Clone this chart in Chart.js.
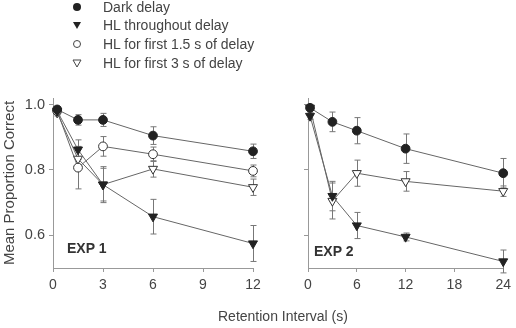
<!DOCTYPE html>
<html>
<head>
<meta charset="utf-8">
<script src="https://cdn.jsdelivr.net/npm/chart.js@4.4.1/dist/chart.umd.min.js"></script>
<style>
  body { margin: 0; background: #fff; font-family: "Liberation Sans", Arial, sans-serif; }
  #wrap { position: relative; width: 516px; height: 328px; overflow: hidden; }
  canvas { position: absolute; top: 0; }
  .lab { position: absolute; color: #444; font-size: 14px; white-space: nowrap; }
  .exp { position: absolute; color: #333; font-size: 14px; font-weight: bold; }
  .leg { position: absolute; left: 70px; font-size: 14px; color: #444; height: 18px; line-height: 14px; }
  .leg svg { position: absolute; left: 0; top: 0; }
  .leg span { position: absolute; left: 33px; top: 0; white-space: nowrap; }
</style>
</head>
<body>
<div id="wrap">
  <canvas id="exp1" width="268" height="300" style="left:0px"></canvas>
  <canvas id="exp2" width="226" height="300" style="left:290px"></canvas>

  <div class="leg" style="top:0px"><svg width="14" height="14"><circle cx="7" cy="7" r="4" fill="#222"/></svg><span>Dark delay</span></div>
  <div class="leg" style="top:18px"><svg width="14" height="14"><polygon points="3,4 11,4 7,11" fill="#222"/></svg><span>HL throughout delay</span></div>
  <div class="leg" style="top:37px"><svg width="14" height="14"><circle cx="7" cy="7" r="3.5" fill="#fff" stroke="#444" stroke-width="1"/></svg><span>HL for first 1.5 s of delay</span></div>
  <div class="leg" style="top:56px"><svg width="14" height="14"><polygon points="3,4 11,4 7,11" fill="#fff" stroke="#444" stroke-width="1"/></svg><span>HL for first 3 s of delay</span></div>

  <div class="exp" style="left:67px; top:240px">EXP 1</div>
  <div class="exp" style="left:314px; top:243px">EXP 2</div>
  <div class="lab" style="left:218px; top:308px">Retention Interval (s)</div>
</div>

<script>
// ---------------- data ----------------
const yTicks = [0.6, 0.8, 1.0];

// Experiment 1
const x1 = [0.25, 1.5, 3, 6, 12];
const xTicks1 = [0, 3, 6, 9, 12];
const dark1 = [0.985, 0.953, 0.953, 0.905, 0.857];
const dark1Err = [0.008, 0.016, 0.02, 0.027, 0.022];
const hlAll1 = [0.98, 0.862, 0.755, 0.657, 0.575];
const hlAll1Err = [0.01, 0.03, 0.05, 0.053, 0.055];
const hl15_1 = [0.98, 0.807, 0.872, 0.848, 0.797];
const hl15_1Err = [0.01, 0.065, 0.03, 0.022, 0.018];
const hl3_1 = [0.975, 0.834, 0.755, 0.803, 0.747];
const hl3_1Err = [0.01, 0.03, 0.055, 0.025, 0.025];

// Experiment 2
const x2 = [0.25, 3, 6, 12, 24];
const xTicks2 = [0, 6, 12, 18, 24];
const dark2 = [0.99, 0.947, 0.92, 0.865, 0.79];
const dark2Err = [0.008, 0.03, 0.04, 0.045, 0.045];
const hlAll2 = [0.965, 0.72, 0.63, 0.595, 0.52];
const hlAll2Err = [0.01, 0.045, 0.04, 0.012, 0.035];
const hl3_2 = [0.99, 0.705, 0.79, 0.765, 0.735];
const hl3_2Err = [0.008, 0.055, 0.04, 0.03, 0.016];

const FONT = "'Liberation Sans', Arial, sans-serif";

function pts(xs, ys) {
  return xs.map((x, i) => ({ x: x, y: ys[i] }));
}

// kind: 'dark' | 'hlAll' | 'hl15' | 'hl3'
function makeSet(label, xs, ys, err, kind) {
  const filled = (kind == 'dark' || kind == 'hlAll');
  const tri = (kind == 'hlAll' || kind == 'hl3');
  return {
    label: label,
    data: pts(xs, ys),
    err: err,
    borderColor: '#666',
    borderWidth: 1,
    pointStyle: tri ? 'triangle' : 'circle',
    pointRotation: tri ? 180 : 0,
    pointRadius: tri ? 5.2 : 4.4,
    pointBackgroundColor: filled ? '#222' : '#fff',
    pointBorderColor: filled ? '#222' : '#333',
    pointBorderWidth: 1,
    tension: 0,
    clip: false
  };
}

// error bars drawn through the chart scales
const errorBars = {
  id: 'errorBars',
  beforeDatasetsDraw(chart) {
    const ctx = chart.ctx;
    const xs = chart.scales.x, ys = chart.scales.y;
    ctx.save();
    ctx.strokeStyle = '#777';
    ctx.lineWidth = 1;
    chart.data.datasets.forEach(ds => {
      ds.data.forEach((p, i) => {
        const e = ds.err[i];
        const px = Math.round(xs.getPixelForValue(p.x)) + 0.5;
        const top = ys.getPixelForValue(p.y + e);
        const bot = ys.getPixelForValue(p.y - e);
        ctx.beginPath();
        ctx.moveTo(px, top); ctx.lineTo(px, bot);
        ctx.moveTo(px - 3, top); ctx.lineTo(px + 3, top);
        ctx.moveTo(px - 3, bot); ctx.lineTo(px + 3, bot);
        ctx.stroke();
      });
    });
    ctx.restore();
  }
};

function makeOptions(xTicks, xMax, showY, yWidth, padRight) {
  return {
    responsive: false,
    animation: false,
    layout: { padding: { top: 98, right: padRight, left: 0, bottom: 0 } },
    plugins: { legend: { display: false }, tooltip: { enabled: false } },
    scales: {
      x: {
        type: 'linear',
        min: 0,
        max: xMax,
        afterBuildTicks: s => { s.ticks = xTicks.map(v => ({ value: v })); },
        afterFit: s => { s.height = 32; },
        ticks: { color: '#444', font: { family: FONT, size: 14 }, padding: 5, maxRotation: 0 },
        grid: { drawOnChartArea: false, drawTicks: true, tickLength: 4, color: '#999' },
        border: { color: '#999', width: 1 }
      },
      y: {
        min: 0.5,
        max: 1.02,
        afterBuildTicks: s => { s.ticks = yTicks.map(v => ({ value: v })); },
        afterFit: s => { s.width = yWidth; },
        ticks: {
          display: showY,
          color: '#444',
          font: { family: FONT, size: 14.5 },
          padding: 4,
          callback: v => v.toFixed(1)
        },
        title: {
          display: showY,
          text: 'Mean Proportion Correct',
          color: '#444',
          font: { family: FONT, size: 15 },
          padding: { top: 1, bottom: 0 }
        },
        grid: { drawOnChartArea: false, drawTicks: true, tickLength: 4, color: '#999' },
        border: { color: '#999', width: 1 }
      }
    }
  };
}

new Chart(document.getElementById('exp1'), {
  type: 'line',
  data: {
    datasets: [
      makeSet('Dark delay', x1, dark1, dark1Err, 'dark'),
      makeSet('HL throughout delay', x1, hlAll1, hlAll1Err, 'hlAll'),
      makeSet('HL for first 1.5 s of delay', x1, hl15_1, hl15_1Err, 'hl15'),
      makeSet('HL for first 3 s of delay', x1, hl3_1, hl3_1Err, 'hl3')
    ]
  },
  options: makeOptions(xTicks1, 12, true, 53, 15),
  plugins: [errorBars]
});

new Chart(document.getElementById('exp2'), {
  type: 'line',
  data: {
    datasets: [
      makeSet('Dark delay', x2, dark2, dark2Err, 'dark'),
      makeSet('HL throughout delay', x2, hlAll2, hlAll2Err, 'hlAll'),
      makeSet('HL for first 3 s of delay', x2, hl3_2, hl3_2Err, 'hl3')
    ]
  },
  options: makeOptions(xTicks2, 24, false, 18, 8),
  plugins: [errorBars]
});
</script>
</body>
</html>
